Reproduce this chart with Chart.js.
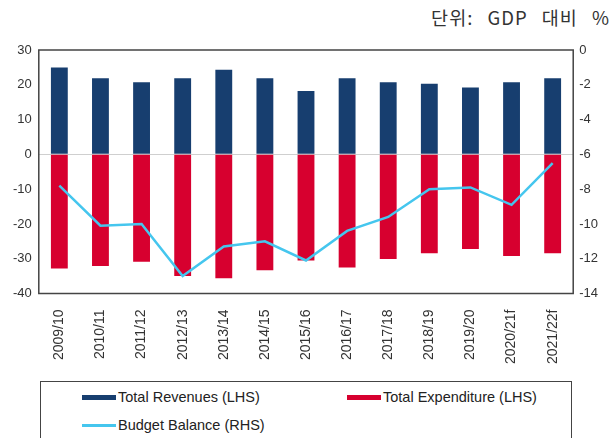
<!DOCTYPE html>
<html>
<head>
<meta charset="utf-8">
<script src="https://cdn.jsdelivr.net/npm/chart.js@4/dist/chart.umd.min.js"></script>
<style>
  body { margin: 0; background: #fff; width: 612px; height: 438px; overflow: hidden; position: relative; font-family: "Liberation Sans", Arial, sans-serif; }
  #unit { position: absolute; right: 2px; top: 4px; font-family: "Noto Sans CJK KR", sans-serif; font-size: 18.5px; color: #333; letter-spacing: 1px; word-spacing: 9px; }
  #wrap { position: absolute; left: 0; top: 0; width: 612px; height: 372px; }
  #legend { position: absolute; left: 40px; top: 381px; width: 532px; height: 70px; border: 1.5px solid #444; box-sizing: border-box; font-family: "Liberation Sans", Arial, sans-serif; font-size: 14.5px; color: #222; }
  .item { position: absolute; display: flex; align-items: center; white-space: nowrap; height: 20px; }
  .sw { width: 34px; margin-right: 2px; }
</style>
</head>
<body>
<div id="unit">단위: GDP 대비 %</div>
<div id="wrap"><canvas id="chart"></canvas></div>
<div id="legend"></div>
<script>
const labels = ['2009/10', '2010/11', '2011/12', '2012/13', '2013/14', '2014/15', '2015/16',
                '2016/17', '2017/18', '2018/19', '2019/20', '2020/21f', '2021/22f'];
const revenues = [25.0, 21.9, 20.7, 21.9, 24.3, 21.9, 18.2, 21.9, 20.7, 20.3, 19.2, 20.7, 21.9];
const expenditure = [-32.8, -32.1, -30.9, -35.0, -35.6, -33.3, -30.5, -32.5, -30.1, -28.4, -27.2, -29.2, -28.4];
const balance = [-7.8, -10.1, -10.0, -13.0, -11.3, -11.0, -12.1, -10.4, -9.6, -8.0, -7.9, -8.9, -6.5];

const navy = '#173e6f';
const red = '#d7002f';
const cyan = '#45c6ee';

// box round the plot area
const frame = {
    id: 'frame',
    afterDraw(chart) {
        const a = chart.chartArea;
        const ctx = chart.ctx;
        ctx.save();
        ctx.strokeStyle = '#444';
        ctx.lineWidth = 1.5;
        ctx.strokeRect(a.left, a.top, a.right - a.left, a.bottom - a.top);
        ctx.restore();
    }
};

const tickFont = { family: '"Liberation Sans", Arial, sans-serif', size: 13 };

new Chart(document.getElementById('chart').getContext('2d'), {
    type: 'bar',
    data: {
        labels: labels,
        datasets: [{
            label: 'Total Revenues (LHS)',
            data: revenues,
            backgroundColor: navy,
            yAxisID: 'y',
            order: 2
        }, {
            label: 'Total Expenditure (LHS)',
            data: expenditure,
            backgroundColor: red,
            yAxisID: 'y',
            order: 2
        }, {
            type: 'line',
            label: 'Budget Balance (RHS)',
            data: balance,
            borderColor: cyan,
            backgroundColor: cyan,
            borderWidth: 2.5,
            pointRadius: 0,
            tension: 0,
            yAxisID: 'y2',
            order: 1
        }]
    },
    options: {
        responsive: true,
        maintainAspectRatio: false,
        animation: false,
        layout: { padding: { top: 50, right: 8, left: 6, bottom: 0 } },
        datasets: { bar: { barPercentage: 0.41, categoryPercentage: 1 } },
        plugins: {
            legend: { display: false },
            tooltip: { enabled: false }
        },
        scales: {
            x: {
                stacked: true,
                grid: { display: false },
                border: { display: false },
                ticks: {
                    color: '#333',
                    font: { family: tickFont.family, size: 14 },
                    minRotation: 90,
                    maxRotation: 90,
                    padding: 8
                }
            },
            y: {
                stacked: true,
                min: -40,
                max: 30,
                grid: {
                    drawTicks: false,
                    color: ctx => ctx.tick && ctx.tick.value === 0 ? '#cfcfcf' : 'rgba(0,0,0,0)'
                },
                border: { display: false },
                ticks: { stepSize: 10, color: '#333', font: tickFont, padding: 7 }
            },
            y2: {
                position: 'right',
                min: -14,
                max: 0,
                grid: { display: false, drawTicks: false },
                border: { display: false },
                ticks: { stepSize: 2, color: '#333', font: tickFont, padding: 6 }
            }
        }
    },
    plugins: [frame]
});

// boxed legend under the chart
const legendItems = [
    { text: 'Total Revenues (LHS)', color: navy, h: 5, left: 41, top: 5 },
    { text: 'Total Expenditure (LHS)', color: red, h: 5, left: 306, top: 5 },
    { text: 'Budget Balance (RHS)', color: cyan, h: 3, left: 41, top: 33 }
];
const legend = document.getElementById('legend');
legendItems.forEach(it => {
    const d = document.createElement('div');
    d.className = 'item';
    d.style.left = it.left + 'px';
    d.style.top = it.top + 'px';
    d.innerHTML = '<span class="sw" style="height:' + it.h + 'px;background:' + it.color + '"></span>' + it.text;
    legend.appendChild(d);
});
</script>
</body>
</html>
